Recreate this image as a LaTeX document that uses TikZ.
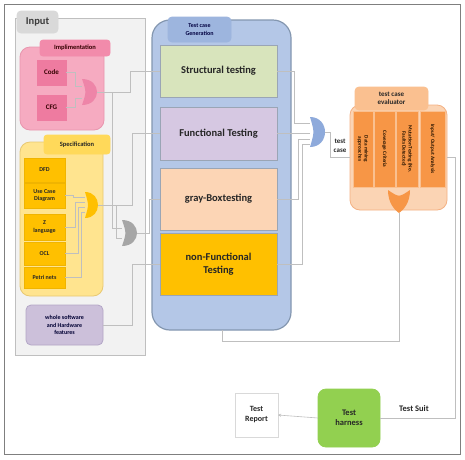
\documentclass[tikz,border=0pt]{standalone}
\usepackage{fontspec}
\setmainfont{Carlito}
\usetikzlibrary{calc,arrows.meta}
\definecolor{framec}{HTML}{7F7F7F}
\definecolor{inpanel}{HTML}{F2F2F2}
\definecolor{inpanelb}{HTML}{BFBFBF}
\definecolor{intab}{HTML}{D9D9D9}
\definecolor{pinkbody}{HTML}{F6ABC1}
\definecolor{pinkb}{HTML}{E896AE}
\definecolor{pinktab}{HTML}{F28BAB}
\definecolor{pinkitem}{HTML}{EE7BA0}
\definecolor{pinkgate}{HTML}{EE85A8}
\definecolor{specbody}{HTML}{FFE48F}
\definecolor{specb}{HTML}{E8C872}
\definecolor{spectab}{HTML}{FFD95A}
\definecolor{specitem}{HTML}{FFC000}
\definecolor{specitemb}{HTML}{F0B400}
\definecolor{purplec}{HTML}{CCC0DA}
\definecolor{purpleb}{HTML}{B3A6C6}
\definecolor{genpanel}{HTML}{B4C7E7}
\definecolor{genb}{HTML}{8497B0}
\definecolor{gentab}{HTML}{9DB5DE}
\definecolor{structc}{HTML}{D8E4BC}
\definecolor{funcc}{HTML}{D6C8E2}
\definecolor{grayboxc}{HTML}{FCD5B5}
\definecolor{nonfuncc}{HTML}{FFC000}
\definecolor{boxb}{HTML}{9AA5B5}
\definecolor{bluegate}{HTML}{8EAADB}
\definecolor{graygate}{HTML}{A6A6A6}
\definecolor{evalbody}{HTML}{FBD4B4}
\definecolor{evalb}{HTML}{F4B183}
\definecolor{evaltab}{HTML}{FAC090}
\definecolor{colc}{HTML}{F79646}
\definecolor{colb}{HTML}{FAC090}
\definecolor{orangegate}{HTML}{F79646}
\definecolor{harnessc}{HTML}{92D050}
\definecolor{reportb}{HTML}{D9D9D9}
\definecolor{connc}{HTML}{BFBFBF}
\definecolor{txt}{HTML}{262626}
\begin{document}
\begin{tikzpicture}[x=1pt,y=-1pt,
  conn/.style={draw=connc, line width=0.6pt},
  bx/.style={rectangle, inner sep=1pt, outer sep=0pt, align=center, text=txt, line width=0.8pt},
  big/.style={font=\bfseries\fontsize{10.5}{12.5}\selectfont},
  small/.style={font=\bfseries\fontsize{6}{7.2}\selectfont},
  mid/.style={font=\bfseries\fontsize{7}{8.4}\selectfont},
  gateR/.style={rectangle, inner sep=0pt, outer sep=0pt, path picture={
    \fill[#1] (path picture bounding box.north west)
      .. controls ($(path picture bounding box.north west)!1.3333!(path picture bounding box.north east)$)
      and ($(path picture bounding box.south west)!1.3333!(path picture bounding box.south east)$)
      .. (path picture bounding box.south west)
      .. controls ($(path picture bounding box.west)!0.3!(path picture bounding box.east)$)
      .. (path picture bounding box.north west) -- cycle;}},
  gateD/.style={rectangle, inner sep=0pt, outer sep=0pt, path picture={
    \fill[#1] ([shift={(-11pt,11.5pt)}]path picture bounding box.center)
      .. controls ([shift={(-11pt,-1pt)}]path picture bounding box.center)
      and ([shift={(-5pt,-8pt)}]path picture bounding box.center)
      .. ([shift={(0pt,-11.5pt)}]path picture bounding box.center)
      .. controls ([shift={(5pt,-8pt)}]path picture bounding box.center)
      and ([shift={(11pt,-1pt)}]path picture bounding box.center)
      .. ([shift={(11pt,11.5pt)}]path picture bounding box.center)
      .. controls ([shift={(0pt,4pt)}]path picture bounding box.center)
      .. ([shift={(-11pt,11.5pt)}]path picture bounding box.center) -- cycle;}}
]
\useasboundingbox (0,0) rectangle (465,459);
\fill[white] (0,0) rectangle (465,459);
% outer frame
\node[draw=framec, line width=1pt, minimum width=456pt, minimum height=450pt, inner sep=0pt] (frame) at (232,229) {};

% ---------- Input panel ----------
\node[bx, fill=inpanel, draw=inpanelb, line width=1pt, minimum width=130pt, minimum height=337pt] (inp) at (80,186.5) {};
\node[bx, fill=intab, draw=intab, rounded corners=4pt, minimum width=41pt, minimum height=22pt, font=\bfseries\fontsize{10.5}{12}\selectfont, text=txt!90] (inptab) at (37.5,22) {Input};

% implementation group
\node[bx, fill=pinkbody, draw=pinkb, rounded corners=10pt, minimum width=84pt, minimum height=83pt] (impl) at (62,88.5) {};
\node[bx, font=\bfseries\fontsize{6.5}{7.8}\selectfont, fill=pinktab, draw=pinktab, rounded corners=3pt, minimum width=70pt, minimum height=16pt, text=black!80!red] (impltab) at (75,48) {Implimentation};
\node[bx, mid, fill=pinkitem, draw=pinkitem, minimum width=29pt, minimum height=25pt, text=black!80!red] (code) at (51.5,72.5) {Code};
\node[bx, mid, fill=pinkitem, draw=pinkitem, minimum width=29pt, minimum height=25pt, text=black!80!red] (cfg) at (51.5,107.5) {CFG};
\node[gateR=pinkgate, minimum width=15pt, minimum height=26pt] (pg) at (89.5,92) {};

% specification group
\node[bx, fill=specbody, draw=specb, rounded corners=10pt, minimum width=83pt, minimum height=154pt] (spec) at (61.5,219) {};
\node[bx, font=\bfseries\fontsize{6.5}{7.8}\selectfont, fill=spectab, draw=spectab, rounded corners=3pt, minimum width=66pt, minimum height=19pt] (spectab) at (77,144.5) {Specification};
\node[bx, small, fill=specitem, draw=specitemb, minimum width=41pt, minimum height=24pt] (dfd) at (44.5,170) {DFD};
\node[bx, small, fill=specitem, draw=specitemb, minimum width=41pt, minimum height=25pt] (usecase) at (44.5,195.5) {Use Case\\Diagram};
\node[bx, small, fill=specitem, draw=specitemb, minimum width=41pt, minimum height=26pt] (zlang) at (44.5,227) {Z\\language};
\node[bx, small, fill=specitem, draw=specitemb, minimum width=41pt, minimum height=23pt] (ocl) at (44.5,253.5) {OCL};
\node[bx, small, fill=specitem, draw=specitemb, minimum width=41pt, minimum height=21pt] (petri) at (44.5,277.5) {Petri nets};
\node[gateR=specitem, minimum width=13pt, minimum height=26pt] (yg) at (91.5,205) {};

\node[gateR=graygate, minimum width=15pt, minimum height=26pt] (gg) at (129.5,233) {};

\node[bx, small, fill=purplec, draw=purpleb, rounded corners=5pt, minimum width=77pt, minimum height=40pt, text=black!80!blue] (hw) at (64.5,325) {whole software\\and Hardware\\features};

% ---------- Test case generation ----------
\node[bx, fill=genpanel, draw=genb, line width=1.2pt, rounded corners=18pt, minimum width=139pt, minimum height=310pt] (gen) at (221.5,175) {};
\node[bx, small, fill=gentab, draw=gentab, rounded corners=4pt, minimum width=63pt, minimum height=25pt, text=black!75!blue] (gentab) at (199.5,29.5) {Test case\\Generation};
\node[bx, big, fill=structc, draw=boxb, minimum width=117pt, minimum height=52pt] (struct) at (218.5,71) {Structural testing};
\node[bx, big, fill=funcc, draw=boxb, minimum width=117pt, minimum height=53pt] (func) at (218.5,133.5) {Functional Testing};
\node[bx, big, fill=grayboxc, draw=boxb, minimum width=117pt, minimum height=62pt] (graybox) at (218.5,199) {gray-Boxtesting};
\node[bx, big, fill=nonfuncc, draw=boxb, minimum width=117pt, minimum height=62pt] (nonfunc) at (218.5,264) {non-Functional\\Testing};

\node[gateR=bluegate, minimum width=15pt, minimum height=30pt] (bg) at (317.5,132) {};
\node[bx, mid, inner sep=0pt] (tc) at (340,146) {test\\case};

% ---------- Evaluator ----------
\node[bx, fill=evalbody, draw=evalb, rounded corners=10pt, minimum width=97pt, minimum height=105pt] (eval) at (398.5,157.5) {};
\node[bx, mid, fill=evaltab, draw=evaltab, rounded corners=4pt, minimum width=73pt, minimum height=23pt] (evaltab) at (391.5,98.5) {test case\\evaluator};
\node[bx, fill=colc, draw=colb, minimum width=20pt, minimum height=76pt] (c1) at (363,149) {};
\node[bx, fill=colc, draw=colb, minimum width=21pt, minimum height=76pt] (c2) at (384.5,149) {};
\node[bx, fill=colc, draw=colb, minimum width=22pt, minimum height=76pt] (c3) at (407,149) {};
\node[bx, fill=colc, draw=colb, minimum width=25pt, minimum height=76pt] (c4) at (432.5,149) {};
\node[bx, rotate=-90, font=\bfseries\fontsize{5.2}{6.2}\selectfont, text=black!85!orange] at (c1.center) {Data mining\\approaches};
\node[bx, rotate=-90, font=\bfseries\fontsize{5.2}{6.2}\selectfont, text=black!85!orange] at (c2.center) {Coverage Criteria};
\node[bx, rotate=-90, font=\bfseries\fontsize{5.2}{6.2}\selectfont, text=black!85!orange] at (c3.center) {Mutation Testing (No.\\Faults Detected)};
\node[bx, rotate=-90, font=\bfseries\fontsize{5.2}{6.2}\selectfont, text=black!85!orange] at (c4.center) {Input/ Output Analysis};
\node[gateD=orangegate, minimum width=22pt, minimum height=23pt] (og) at (399,201.5) {};

% ---------- Bottom ----------
\node[bx, fill=harnessc, draw=harnessc, rounded corners=8pt, minimum width=62pt, minimum height=58pt, font=\bfseries\fontsize{8.5}{10.5}\selectfont] (harness) at (349,418) {Test\\harness};
\node[bx, fill=white, draw=reportb, line width=0.5pt, minimum width=43pt, minimum height=44pt, font=\bfseries\fontsize{8}{10}\selectfont] (report) at (256.5,415) {Test\\Report};
\node[bx, inner sep=0pt, font=\bfseries\fontsize{8.5}{10}\selectfont] (suit) at (414,409) {Test Suit};

% ---------- Connectors ----------
\draw[conn] (code.east) -- ++(9,0) |- ([yshift=6pt]pg.west);
\draw[conn] (cfg.east) -- ++(9,0) |- ([yshift=-6pt]pg.west);
\draw[conn] (pg.east) -- ++(33,0) |- (struct.west);
\draw[conn] (pg.east) -- ++(15,0) |- ([yshift=5pt]gg.west);
\draw[conn] (usecase.east) -- ++(8,0) |- ([yshift=8pt]yg.west);
\draw[conn] (zlang.east) -- ++(10,0) |- ([yshift=3pt]yg.west);
\draw[conn] (ocl.east) -- ++(13,0) |- ([yshift=-2pt]yg.west);
\draw[conn] (petri.east) -- ++(16,0) |- ([yshift=-7pt]yg.west);
\draw[conn] (yg.east) -- ++(34,0) |- (func.west);
\draw[conn] (yg.east) -- ++(18,0) |- ([yshift=-5pt]gg.west);
\draw[conn] (gg.east) -- ++(12,0) |- (graybox.west);
\draw[conn] (hw.east) -- ++(29,0) |- (nonfunc.west);

\draw[conn] (struct.east) -- ++(17,0) |- ([yshift=9pt]bg.west);
\draw[conn] (func.east) -- (func.east -| bg.west);
\draw[conn] (graybox.east) -- ++(21,0) |- ([yshift=-7pt]bg.west);
\draw[conn] (nonfunc.east) -- ++(25,0) |- ([yshift=-12pt]bg.west);
\draw[conn] (bg.east) -- ++(5,0) |- (eval.west);

\coordinate (fb) at (222,341);
\draw[conn] (og.south) |- (fb) -- (fb |- gen.south);
\draw[conn] (eval.east) -- ++(8,0) |- (harness.east);
\draw[conn, -{Stealth[length=3pt,width=3pt]}] (harness.west) -- (report.east);
\end{tikzpicture}
\end{document}
